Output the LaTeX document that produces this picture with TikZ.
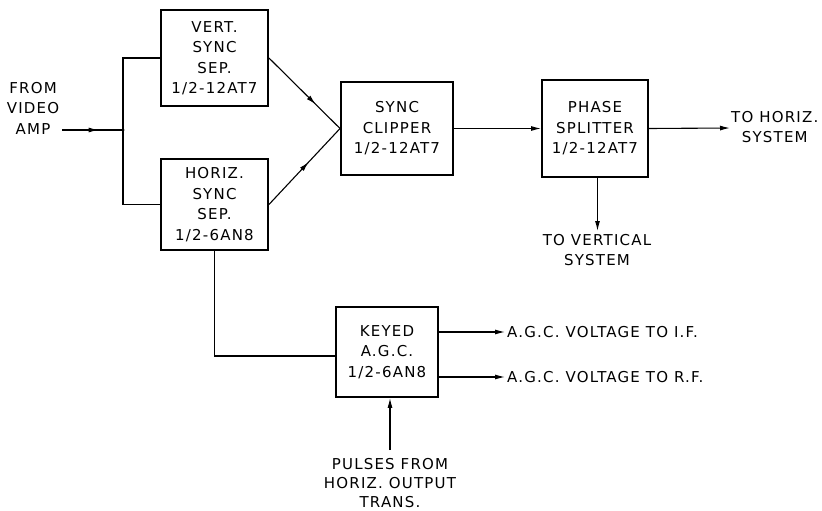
\documentclass[tikz,border=0pt]{standalone}
\usepackage{fontspec}
\setmainfont{DejaVu Sans}[LetterSpace=8]
\usetikzlibrary{arrows.meta,decorations.markings}
\begin{document}
\begin{tikzpicture}[x=1pt,y=-1pt,
  blk/.style={draw,line width=1.9pt,minimum width=#1,inner sep=0pt,align=center,font=\fontsize{15}{20.5}\selectfont},
  lbl/.style={align=center,inner sep=0pt,font=\fontsize{15}{20.5}\selectfont},
  wire/.style={line width=1.1pt},
  arr/.style={wire,-{Latex[length=10pt,width=5pt]}},
  midarr/.style={wire,postaction={decorate},decoration={markings,mark=at position #1 with {\arrow{Latex[length=10pt,width=5pt]}}}}
]
\useasboundingbox (0,0) rectangle (822,511);
% blocks
\node[blk=107pt,minimum height=96pt] (vert) at (214.5,58) {VERT.\\SYNC\\SEP.\\1/2-12AT7};
\node[blk=107pt,minimum height=91pt] (horiz) at (214.5,204.5) {HORIZ.\\SYNC\\SEP.\\1/2-6AN8};
\node[blk=112pt,minimum height=93pt] (clip) at (397,128.5) {SYNC\\CLIPPER\\1/2-12AT7};
\node[blk=106pt,minimum height=97pt] (phase) at (595,128.5) {PHASE\\SPLITTER\\1/2-12AT7};
\node[blk=102pt,minimum height=90pt] (agc) at (387,352) {KEYED\\A.G.C.\\1/2-6AN8};
% labels
\node[lbl] (from) at (33,108) {FROM\\VIDEO\\AMP};
\node[lbl,anchor=west] (toh) at (731,127) {TO HORIZ.\\SYSTEM};
\node[lbl,anchor=north] (tov) at (597,234) {TO VERTICAL\\SYSTEM};
\node[lbl,anchor=west] (agcif) at (507,332) {A.G.C. VOLTAGE TO I.F.};
\node[lbl,anchor=west] (agcrf) at (507,377) {A.G.C. VOLTAGE TO R.F.};
\node[lbl,anchor=north,font=\fontsize{15}{19}\selectfont] (pulses) at (390,458) {PULSES FROM\\HORIZ. OUTPUT\\TRANS.};
% coordinates
\coordinate (in) at (62,130);
\coordinate (j) at (123,130);
\coordinate (th) at (730,128);
\coordinate (tv) at (597.5,231);
\coordinate (pin) at (390,450);
\coordinate (oif) at (505,332);
\coordinate (orf) at (505,377);
% connectors
\draw[midarr=0.6] (in) -- (j);
\fill (j) circle (1.7pt);
\draw[wire] (j) |- (vert.west);
\draw[wire] (j) |- (horiz.west);
\draw[midarr=0.66] (vert.east) -- (clip.west);
\draw[midarr=0.56] (horiz.east) -- (clip.west);
\draw[arr] (clip.east) -- (phase.west);
\draw[arr] (phase.east) -- (th);
\draw[arr] (phase.south -| tv) -- (tv);
\draw[wire] (horiz.south) |- ([yshift=-4pt]agc.west);
\draw[arr] (agc.east |- oif) -- (oif);
\draw[arr] (agc.east |- orf) -- (orf);
\draw[arr] (pin) -- (agc.south -| pin);
\end{tikzpicture}
\end{document}
